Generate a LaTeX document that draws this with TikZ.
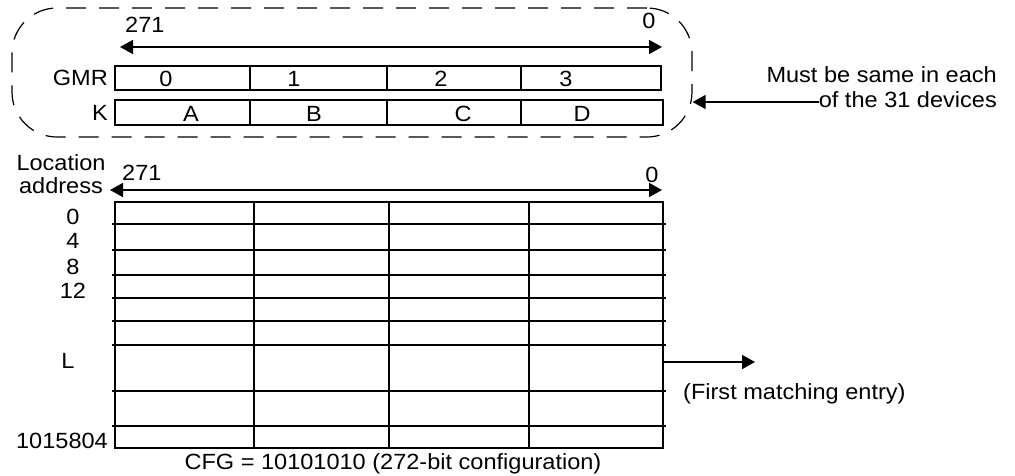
\documentclass[tikz,border=0pt]{standalone}
\usepackage{fontspec}
\setmainfont{Liberation Sans}[FakeStretch=1.07]
\usetikzlibrary{arrows.meta,positioning,calc}
\tikzset{
  lbl/.style={font=\fontsize{22}{26}\selectfont, inner sep=0pt},
  fieldbox/.style={draw, line width=1.5pt, inner sep=0pt,
    minimum width=#1, minimum height=24pt},
  fieldbox/.default={546pt},
  membox/.style={draw, line width=1.6pt, inner sep=0pt,
    minimum width=548pt, minimum height=246pt},
  memline/.style={line width=1.6pt},
  grpbox/.style={draw, dash pattern=on 20pt off 13pt, line width=1.2pt,
    rounded corners=45pt, inner sep=0pt},
  dimarr/.style={{Triangle[length=13pt,width=14pt]}-{Triangle[length=13pt,width=14pt]}, line width=1.6pt},
  tiparr/.style={-{Triangle[length=13pt,width=14pt]}, line width=1.6pt},
}

\begin{document}
\begin{tikzpicture}[x=1pt,y=-1pt]
  \useasboundingbox (0,0) rectangle (1015,475);

  % group shared by all devices
  \node[grpbox, minimum width=680pt, minimum height=129pt] (grp) at (352,72.5) {};

  \coordinate (gl) at (120,47);
  \coordinate (gr) at (662,47);
  \draw[dimarr] (gl) -- (gr);
  \node[lbl, anchor=base west] (gmsb) at (125,32) {271};
  \node[lbl, anchor=base] (glsb) at (649,28) {0};

  \node[fieldbox] (gmr) at (388,78) {};
  \node[fieldbox=548pt, minimum height=25pt] (key) at (389,112.5) {};
  \foreach \x in {250,387,521} {
    \draw[line width=1.5pt] (\x,0 |- gmr.north) -- (\x,0 |- gmr.south);
    \draw[line width=1.5pt] (\x,0 |- key.north) -- (\x,0 |- key.south);
  }
  \node[lbl, anchor=base east] (gmrlbl) at (108,85) {GMR};
  \node[lbl, anchor=base east] (keylbl) at (108,120) {K};
  \foreach \x/\t [count=\i] in {166/0,294/1,441/2,566/3}
    \node[lbl, anchor=base] (g\i) at (\x,86) {\t};
  \foreach \x/\t [count=\i] in {191/A,314/B,463/C,582/D}
    \node[lbl, anchor=base] (k\i) at (\x,121) {\t};

  \node[lbl, anchor=base east] (must1) at (997,82) {Must be same in each};
  \node[lbl, anchor=base east] (must2) at (997,107) {of the 31 devices};
  \draw[tiparr] (must2.west |- 0,102) -- (grp.east |- 0,102);

  % memory array
  \node[lbl, anchor=base] (loc) at (61,170) {Location};
  \node[lbl, anchor=base] (addr) at (61,193) {address};
  \coordinate (ml) at (110,190);
  \coordinate (mr) at (662,190);
  \draw[dimarr] (ml) -- (mr);
  \node[lbl, anchor=base west] (mmsb) at (122,180) {271};
  \node[lbl, anchor=base] (mlsb) at (652,182) {0};

  \node[membox] (mem) at (389,325) {};
  \foreach \x in {254,389,529}
    \draw[memline] (\x,0 |- mem.north) -- (\x,0 |- mem.south);
  \foreach \y in {224,250,275,298,321,345,391,426}
    \draw[memline] (112,\y) -- (666,\y);

  \foreach \y/\t [count=\i] in {224/0,248/4,274/8,298/12}
    \node[lbl, anchor=base] (a\i) at (73,\y) {\t};
  \node[lbl, anchor=base] (arowL) at (68,368) {L};
  \node[lbl, anchor=base east] (alast) at (108,448) {1015804};

  \coordinate (hit) at (755,362);
  \draw[tiparr] (mem.east |- hit) -- (hit);
  \node[lbl, anchor=base west] (hitlbl) at (683,399) {(First matching entry)};

  \node[lbl, anchor=base] (cfg) at (393,469) {CFG = 10101010 (272-bit configuration)};
\end{tikzpicture}
\end{document}
